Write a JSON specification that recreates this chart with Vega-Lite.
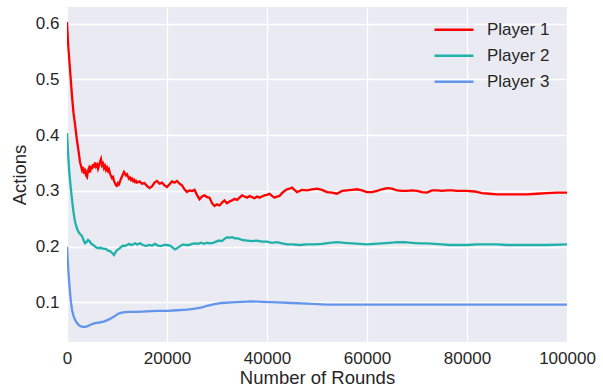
{
  "$schema": "https://vega.github.io/schema/vega-lite/v6.json",
  "width": 500,
  "height": 335,
  "autosize": {"type": "none"},
  "padding": {"left": 67, "top": 7, "right": 36, "bottom": 49},
  "background": "white",
  "data": {
    "values": [
      {"r": 0, "a": 0.603, "p": "Player 1"},
      {"r": 100, "a": 0.585, "p": "Player 1"},
      {"r": 250, "a": 0.56, "p": "Player 1"},
      {"r": 500, "a": 0.53, "p": "Player 1"},
      {"r": 750, "a": 0.5, "p": "Player 1"},
      {"r": 1000, "a": 0.47, "p": "Player 1"},
      {"r": 1300, "a": 0.44, "p": "Player 1"},
      {"r": 1600, "a": 0.42, "p": "Player 1"},
      {"r": 2000, "a": 0.39, "p": "Player 1"},
      {"r": 2300, "a": 0.372, "p": "Player 1"},
      {"r": 2600, "a": 0.352, "p": "Player 1"},
      {"r": 2800, "a": 0.345, "p": "Player 1"},
      {"r": 3000, "a": 0.338, "p": "Player 1"},
      {"r": 3200, "a": 0.343, "p": "Player 1"},
      {"r": 3400, "a": 0.331, "p": "Player 1"},
      {"r": 3600, "a": 0.34, "p": "Player 1"},
      {"r": 3800, "a": 0.328, "p": "Player 1"},
      {"r": 4000, "a": 0.325, "p": "Player 1"},
      {"r": 4200, "a": 0.336, "p": "Player 1"},
      {"r": 4400, "a": 0.341, "p": "Player 1"},
      {"r": 4600, "a": 0.333, "p": "Player 1"},
      {"r": 4800, "a": 0.345, "p": "Player 1"},
      {"r": 5000, "a": 0.339, "p": "Player 1"},
      {"r": 5200, "a": 0.348, "p": "Player 1"},
      {"r": 5400, "a": 0.342, "p": "Player 1"},
      {"r": 5600, "a": 0.351, "p": "Player 1"},
      {"r": 5800, "a": 0.344, "p": "Player 1"},
      {"r": 6000, "a": 0.347, "p": "Player 1"},
      {"r": 6200, "a": 0.34, "p": "Player 1"},
      {"r": 6400, "a": 0.346, "p": "Player 1"},
      {"r": 6600, "a": 0.352, "p": "Player 1"},
      {"r": 6800, "a": 0.357, "p": "Player 1"},
      {"r": 7000, "a": 0.346, "p": "Player 1"},
      {"r": 7200, "a": 0.349, "p": "Player 1"},
      {"r": 7400, "a": 0.341, "p": "Player 1"},
      {"r": 7600, "a": 0.345, "p": "Player 1"},
      {"r": 7800, "a": 0.338, "p": "Player 1"},
      {"r": 8000, "a": 0.342, "p": "Player 1"},
      {"r": 8200, "a": 0.336, "p": "Player 1"},
      {"r": 8400, "a": 0.339, "p": "Player 1"},
      {"r": 8600, "a": 0.331, "p": "Player 1"},
      {"r": 8800, "a": 0.327, "p": "Player 1"},
      {"r": 9000, "a": 0.323, "p": "Player 1"},
      {"r": 9200, "a": 0.325, "p": "Player 1"},
      {"r": 9400, "a": 0.318, "p": "Player 1"},
      {"r": 9600, "a": 0.314, "p": "Player 1"},
      {"r": 9800, "a": 0.31, "p": "Player 1"},
      {"r": 10000, "a": 0.309, "p": "Player 1"},
      {"r": 10200, "a": 0.314, "p": "Player 1"},
      {"r": 10400, "a": 0.312, "p": "Player 1"},
      {"r": 10600, "a": 0.317, "p": "Player 1"},
      {"r": 10800, "a": 0.322, "p": "Player 1"},
      {"r": 11000, "a": 0.326, "p": "Player 1"},
      {"r": 11200, "a": 0.33, "p": "Player 1"},
      {"r": 11400, "a": 0.334, "p": "Player 1"},
      {"r": 11600, "a": 0.331, "p": "Player 1"},
      {"r": 11800, "a": 0.328, "p": "Player 1"},
      {"r": 12000, "a": 0.33, "p": "Player 1"},
      {"r": 12200, "a": 0.326, "p": "Player 1"},
      {"r": 12400, "a": 0.322, "p": "Player 1"},
      {"r": 12600, "a": 0.324, "p": "Player 1"},
      {"r": 12800, "a": 0.32, "p": "Player 1"},
      {"r": 13000, "a": 0.322, "p": "Player 1"},
      {"r": 13200, "a": 0.318, "p": "Player 1"},
      {"r": 13400, "a": 0.32, "p": "Player 1"},
      {"r": 13600, "a": 0.316, "p": "Player 1"},
      {"r": 13800, "a": 0.318, "p": "Player 1"},
      {"r": 14000, "a": 0.315, "p": "Player 1"},
      {"r": 14500, "a": 0.317, "p": "Player 1"},
      {"r": 15000, "a": 0.313, "p": "Player 1"},
      {"r": 15500, "a": 0.314, "p": "Player 1"},
      {"r": 16000, "a": 0.309, "p": "Player 1"},
      {"r": 16500, "a": 0.305, "p": "Player 1"},
      {"r": 17000, "a": 0.308, "p": "Player 1"},
      {"r": 17500, "a": 0.315, "p": "Player 1"},
      {"r": 18000, "a": 0.318, "p": "Player 1"},
      {"r": 18500, "a": 0.313, "p": "Player 1"},
      {"r": 19000, "a": 0.315, "p": "Player 1"},
      {"r": 19500, "a": 0.31, "p": "Player 1"},
      {"r": 20000, "a": 0.307, "p": "Player 1"},
      {"r": 20500, "a": 0.312, "p": "Player 1"},
      {"r": 21000, "a": 0.317, "p": "Player 1"},
      {"r": 21500, "a": 0.315, "p": "Player 1"},
      {"r": 22000, "a": 0.318, "p": "Player 1"},
      {"r": 22500, "a": 0.313, "p": "Player 1"},
      {"r": 23000, "a": 0.31, "p": "Player 1"},
      {"r": 23500, "a": 0.303, "p": "Player 1"},
      {"r": 24000, "a": 0.298, "p": "Player 1"},
      {"r": 24500, "a": 0.301, "p": "Player 1"},
      {"r": 25000, "a": 0.3, "p": "Player 1"},
      {"r": 25500, "a": 0.302, "p": "Player 1"},
      {"r": 26000, "a": 0.293, "p": "Player 1"},
      {"r": 26500, "a": 0.285, "p": "Player 1"},
      {"r": 27000, "a": 0.29, "p": "Player 1"},
      {"r": 27500, "a": 0.292, "p": "Player 1"},
      {"r": 28000, "a": 0.289, "p": "Player 1"},
      {"r": 28500, "a": 0.288, "p": "Player 1"},
      {"r": 29000, "a": 0.278, "p": "Player 1"},
      {"r": 29500, "a": 0.273, "p": "Player 1"},
      {"r": 30000, "a": 0.276, "p": "Player 1"},
      {"r": 30500, "a": 0.274, "p": "Player 1"},
      {"r": 31000, "a": 0.279, "p": "Player 1"},
      {"r": 31500, "a": 0.283, "p": "Player 1"},
      {"r": 32000, "a": 0.278, "p": "Player 1"},
      {"r": 32500, "a": 0.281, "p": "Player 1"},
      {"r": 33000, "a": 0.283, "p": "Player 1"},
      {"r": 33500, "a": 0.286, "p": "Player 1"},
      {"r": 34000, "a": 0.284, "p": "Player 1"},
      {"r": 34500, "a": 0.288, "p": "Player 1"},
      {"r": 35000, "a": 0.292, "p": "Player 1"},
      {"r": 35500, "a": 0.29, "p": "Player 1"},
      {"r": 36000, "a": 0.288, "p": "Player 1"},
      {"r": 36500, "a": 0.291, "p": "Player 1"},
      {"r": 37000, "a": 0.289, "p": "Player 1"},
      {"r": 37500, "a": 0.287, "p": "Player 1"},
      {"r": 38000, "a": 0.29, "p": "Player 1"},
      {"r": 38500, "a": 0.288, "p": "Player 1"},
      {"r": 39000, "a": 0.29, "p": "Player 1"},
      {"r": 39500, "a": 0.292, "p": "Player 1"},
      {"r": 40000, "a": 0.293, "p": "Player 1"},
      {"r": 40500, "a": 0.295, "p": "Player 1"},
      {"r": 41000, "a": 0.291, "p": "Player 1"},
      {"r": 41500, "a": 0.288, "p": "Player 1"},
      {"r": 42000, "a": 0.29, "p": "Player 1"},
      {"r": 42500, "a": 0.291, "p": "Player 1"},
      {"r": 43000, "a": 0.296, "p": "Player 1"},
      {"r": 43500, "a": 0.3, "p": "Player 1"},
      {"r": 44000, "a": 0.303, "p": "Player 1"},
      {"r": 44500, "a": 0.304, "p": "Player 1"},
      {"r": 45000, "a": 0.306, "p": "Player 1"},
      {"r": 45500, "a": 0.302, "p": "Player 1"},
      {"r": 46000, "a": 0.298, "p": "Player 1"},
      {"r": 46500, "a": 0.3, "p": "Player 1"},
      {"r": 47000, "a": 0.302, "p": "Player 1"},
      {"r": 48000, "a": 0.301, "p": "Player 1"},
      {"r": 49000, "a": 0.303, "p": "Player 1"},
      {"r": 50000, "a": 0.304, "p": "Player 1"},
      {"r": 51000, "a": 0.302, "p": "Player 1"},
      {"r": 52000, "a": 0.298, "p": "Player 1"},
      {"r": 53000, "a": 0.297, "p": "Player 1"},
      {"r": 54000, "a": 0.295, "p": "Player 1"},
      {"r": 55000, "a": 0.3, "p": "Player 1"},
      {"r": 56000, "a": 0.301, "p": "Player 1"},
      {"r": 57000, "a": 0.302, "p": "Player 1"},
      {"r": 58000, "a": 0.303, "p": "Player 1"},
      {"r": 59000, "a": 0.301, "p": "Player 1"},
      {"r": 60000, "a": 0.298, "p": "Player 1"},
      {"r": 61000, "a": 0.298, "p": "Player 1"},
      {"r": 62000, "a": 0.3, "p": "Player 1"},
      {"r": 63000, "a": 0.303, "p": "Player 1"},
      {"r": 64000, "a": 0.305, "p": "Player 1"},
      {"r": 65000, "a": 0.304, "p": "Player 1"},
      {"r": 66000, "a": 0.301, "p": "Player 1"},
      {"r": 67000, "a": 0.3, "p": "Player 1"},
      {"r": 68000, "a": 0.3, "p": "Player 1"},
      {"r": 69000, "a": 0.301, "p": "Player 1"},
      {"r": 70000, "a": 0.3, "p": "Player 1"},
      {"r": 71000, "a": 0.298, "p": "Player 1"},
      {"r": 72000, "a": 0.297, "p": "Player 1"},
      {"r": 73000, "a": 0.301, "p": "Player 1"},
      {"r": 74000, "a": 0.301, "p": "Player 1"},
      {"r": 75000, "a": 0.3, "p": "Player 1"},
      {"r": 76000, "a": 0.301, "p": "Player 1"},
      {"r": 77000, "a": 0.301, "p": "Player 1"},
      {"r": 78000, "a": 0.3, "p": "Player 1"},
      {"r": 80000, "a": 0.3, "p": "Player 1"},
      {"r": 81500, "a": 0.299, "p": "Player 1"},
      {"r": 83000, "a": 0.296, "p": "Player 1"},
      {"r": 84500, "a": 0.295, "p": "Player 1"},
      {"r": 86000, "a": 0.294, "p": "Player 1"},
      {"r": 88000, "a": 0.294, "p": "Player 1"},
      {"r": 90000, "a": 0.294, "p": "Player 1"},
      {"r": 92000, "a": 0.294, "p": "Player 1"},
      {"r": 94000, "a": 0.295, "p": "Player 1"},
      {"r": 96000, "a": 0.296, "p": "Player 1"},
      {"r": 98000, "a": 0.297, "p": "Player 1"},
      {"r": 100000, "a": 0.297, "p": "Player 1"},

      {"r": 0, "a": 0.404, "p": "Player 2"},
      {"r": 200, "a": 0.37, "p": "Player 2"},
      {"r": 400, "a": 0.34, "p": "Player 2"},
      {"r": 700, "a": 0.31, "p": "Player 2"},
      {"r": 1000, "a": 0.285, "p": "Player 2"},
      {"r": 1300, "a": 0.262, "p": "Player 2"},
      {"r": 1600, "a": 0.245, "p": "Player 2"},
      {"r": 2000, "a": 0.232, "p": "Player 2"},
      {"r": 2400, "a": 0.225, "p": "Player 2"},
      {"r": 2700, "a": 0.222, "p": "Player 2"},
      {"r": 3000, "a": 0.219, "p": "Player 2"},
      {"r": 3300, "a": 0.212, "p": "Player 2"},
      {"r": 3600, "a": 0.206, "p": "Player 2"},
      {"r": 3900, "a": 0.208, "p": "Player 2"},
      {"r": 4200, "a": 0.212, "p": "Player 2"},
      {"r": 4500, "a": 0.21, "p": "Player 2"},
      {"r": 4800, "a": 0.206, "p": "Player 2"},
      {"r": 5100, "a": 0.204, "p": "Player 2"},
      {"r": 5400, "a": 0.202, "p": "Player 2"},
      {"r": 5800, "a": 0.199, "p": "Player 2"},
      {"r": 6200, "a": 0.197, "p": "Player 2"},
      {"r": 6600, "a": 0.198, "p": "Player 2"},
      {"r": 7000, "a": 0.197, "p": "Player 2"},
      {"r": 7400, "a": 0.196, "p": "Player 2"},
      {"r": 7800, "a": 0.196, "p": "Player 2"},
      {"r": 8200, "a": 0.193, "p": "Player 2"},
      {"r": 8600, "a": 0.192, "p": "Player 2"},
      {"r": 9000, "a": 0.189, "p": "Player 2"},
      {"r": 9400, "a": 0.185, "p": "Player 2"},
      {"r": 9700, "a": 0.19, "p": "Player 2"},
      {"r": 10000, "a": 0.194, "p": "Player 2"},
      {"r": 10400, "a": 0.196, "p": "Player 2"},
      {"r": 10800, "a": 0.199, "p": "Player 2"},
      {"r": 11200, "a": 0.202, "p": "Player 2"},
      {"r": 11600, "a": 0.201, "p": "Player 2"},
      {"r": 12000, "a": 0.203, "p": "Player 2"},
      {"r": 12400, "a": 0.205, "p": "Player 2"},
      {"r": 12800, "a": 0.203, "p": "Player 2"},
      {"r": 13200, "a": 0.204, "p": "Player 2"},
      {"r": 13600, "a": 0.206, "p": "Player 2"},
      {"r": 14000, "a": 0.204, "p": "Player 2"},
      {"r": 14600, "a": 0.206, "p": "Player 2"},
      {"r": 15200, "a": 0.203, "p": "Player 2"},
      {"r": 15800, "a": 0.201, "p": "Player 2"},
      {"r": 16400, "a": 0.203, "p": "Player 2"},
      {"r": 17000, "a": 0.202, "p": "Player 2"},
      {"r": 17600, "a": 0.205, "p": "Player 2"},
      {"r": 18200, "a": 0.202, "p": "Player 2"},
      {"r": 18800, "a": 0.201, "p": "Player 2"},
      {"r": 19400, "a": 0.203, "p": "Player 2"},
      {"r": 20000, "a": 0.203, "p": "Player 2"},
      {"r": 20600, "a": 0.202, "p": "Player 2"},
      {"r": 21200, "a": 0.198, "p": "Player 2"},
      {"r": 21600, "a": 0.195, "p": "Player 2"},
      {"r": 22000, "a": 0.197, "p": "Player 2"},
      {"r": 22600, "a": 0.201, "p": "Player 2"},
      {"r": 23200, "a": 0.204, "p": "Player 2"},
      {"r": 23800, "a": 0.203, "p": "Player 2"},
      {"r": 24400, "a": 0.203, "p": "Player 2"},
      {"r": 25000, "a": 0.205, "p": "Player 2"},
      {"r": 25600, "a": 0.206, "p": "Player 2"},
      {"r": 26200, "a": 0.205, "p": "Player 2"},
      {"r": 26800, "a": 0.207, "p": "Player 2"},
      {"r": 27400, "a": 0.205, "p": "Player 2"},
      {"r": 28000, "a": 0.207, "p": "Player 2"},
      {"r": 28600, "a": 0.206, "p": "Player 2"},
      {"r": 29200, "a": 0.207, "p": "Player 2"},
      {"r": 29800, "a": 0.209, "p": "Player 2"},
      {"r": 30400, "a": 0.211, "p": "Player 2"},
      {"r": 31000, "a": 0.21, "p": "Player 2"},
      {"r": 31500, "a": 0.214, "p": "Player 2"},
      {"r": 32000, "a": 0.217, "p": "Player 2"},
      {"r": 32500, "a": 0.216, "p": "Player 2"},
      {"r": 33000, "a": 0.217, "p": "Player 2"},
      {"r": 33600, "a": 0.215, "p": "Player 2"},
      {"r": 34200, "a": 0.215, "p": "Player 2"},
      {"r": 35000, "a": 0.212, "p": "Player 2"},
      {"r": 36000, "a": 0.211, "p": "Player 2"},
      {"r": 37000, "a": 0.21, "p": "Player 2"},
      {"r": 38000, "a": 0.211, "p": "Player 2"},
      {"r": 39000, "a": 0.209, "p": "Player 2"},
      {"r": 40000, "a": 0.209, "p": "Player 2"},
      {"r": 41000, "a": 0.207, "p": "Player 2"},
      {"r": 42000, "a": 0.208, "p": "Player 2"},
      {"r": 43000, "a": 0.206, "p": "Player 2"},
      {"r": 44000, "a": 0.204, "p": "Player 2"},
      {"r": 45000, "a": 0.204, "p": "Player 2"},
      {"r": 46500, "a": 0.203, "p": "Player 2"},
      {"r": 48000, "a": 0.204, "p": "Player 2"},
      {"r": 49500, "a": 0.204, "p": "Player 2"},
      {"r": 51000, "a": 0.205, "p": "Player 2"},
      {"r": 52500, "a": 0.207, "p": "Player 2"},
      {"r": 54000, "a": 0.208, "p": "Player 2"},
      {"r": 55500, "a": 0.207, "p": "Player 2"},
      {"r": 57000, "a": 0.206, "p": "Player 2"},
      {"r": 58500, "a": 0.205, "p": "Player 2"},
      {"r": 60000, "a": 0.204, "p": "Player 2"},
      {"r": 61500, "a": 0.205, "p": "Player 2"},
      {"r": 63000, "a": 0.206, "p": "Player 2"},
      {"r": 64500, "a": 0.207, "p": "Player 2"},
      {"r": 66000, "a": 0.208, "p": "Player 2"},
      {"r": 67500, "a": 0.208, "p": "Player 2"},
      {"r": 69000, "a": 0.207, "p": "Player 2"},
      {"r": 70500, "a": 0.206, "p": "Player 2"},
      {"r": 72000, "a": 0.206, "p": "Player 2"},
      {"r": 73500, "a": 0.205, "p": "Player 2"},
      {"r": 75000, "a": 0.204, "p": "Player 2"},
      {"r": 76500, "a": 0.203, "p": "Player 2"},
      {"r": 78000, "a": 0.203, "p": "Player 2"},
      {"r": 80000, "a": 0.203, "p": "Player 2"},
      {"r": 82000, "a": 0.204, "p": "Player 2"},
      {"r": 84000, "a": 0.204, "p": "Player 2"},
      {"r": 86000, "a": 0.204, "p": "Player 2"},
      {"r": 88000, "a": 0.203, "p": "Player 2"},
      {"r": 90000, "a": 0.203, "p": "Player 2"},
      {"r": 93000, "a": 0.203, "p": "Player 2"},
      {"r": 96000, "a": 0.203, "p": "Player 2"},
      {"r": 100000, "a": 0.204, "p": "Player 2"},

      {"r": 0, "a": 0.2, "p": "Player 3"},
      {"r": 200, "a": 0.168, "p": "Player 3"},
      {"r": 400, "a": 0.14, "p": "Player 3"},
      {"r": 600, "a": 0.118, "p": "Player 3"},
      {"r": 800, "a": 0.1, "p": "Player 3"},
      {"r": 1000, "a": 0.087, "p": "Player 3"},
      {"r": 1300, "a": 0.076, "p": "Player 3"},
      {"r": 1600, "a": 0.069, "p": "Player 3"},
      {"r": 2000, "a": 0.063, "p": "Player 3"},
      {"r": 2400, "a": 0.059, "p": "Player 3"},
      {"r": 2800, "a": 0.057, "p": "Player 3"},
      {"r": 3200, "a": 0.056, "p": "Player 3"},
      {"r": 3600, "a": 0.056, "p": "Player 3"},
      {"r": 4000, "a": 0.057, "p": "Player 3"},
      {"r": 4500, "a": 0.059, "p": "Player 3"},
      {"r": 5000, "a": 0.061, "p": "Player 3"},
      {"r": 5600, "a": 0.063, "p": "Player 3"},
      {"r": 6500, "a": 0.064, "p": "Player 3"},
      {"r": 7500, "a": 0.066, "p": "Player 3"},
      {"r": 8500, "a": 0.07, "p": "Player 3"},
      {"r": 9500, "a": 0.075, "p": "Player 3"},
      {"r": 10300, "a": 0.08, "p": "Player 3"},
      {"r": 11200, "a": 0.082, "p": "Player 3"},
      {"r": 12500, "a": 0.083, "p": "Player 3"},
      {"r": 14000, "a": 0.083, "p": "Player 3"},
      {"r": 16000, "a": 0.084, "p": "Player 3"},
      {"r": 18000, "a": 0.085, "p": "Player 3"},
      {"r": 20000, "a": 0.085, "p": "Player 3"},
      {"r": 22000, "a": 0.086, "p": "Player 3"},
      {"r": 24000, "a": 0.087, "p": "Player 3"},
      {"r": 25600, "a": 0.089, "p": "Player 3"},
      {"r": 27000, "a": 0.091, "p": "Player 3"},
      {"r": 28000, "a": 0.094, "p": "Player 3"},
      {"r": 29500, "a": 0.097, "p": "Player 3"},
      {"r": 31000, "a": 0.099, "p": "Player 3"},
      {"r": 33000, "a": 0.1, "p": "Player 3"},
      {"r": 35000, "a": 0.101, "p": "Player 3"},
      {"r": 37000, "a": 0.102, "p": "Player 3"},
      {"r": 39000, "a": 0.101, "p": "Player 3"},
      {"r": 42000, "a": 0.1, "p": "Player 3"},
      {"r": 45000, "a": 0.099, "p": "Player 3"},
      {"r": 48000, "a": 0.098, "p": "Player 3"},
      {"r": 52000, "a": 0.096, "p": "Player 3"},
      {"r": 56000, "a": 0.096, "p": "Player 3"},
      {"r": 60000, "a": 0.096, "p": "Player 3"},
      {"r": 70000, "a": 0.096, "p": "Player 3"},
      {"r": 80000, "a": 0.096, "p": "Player 3"},
      {"r": 90000, "a": 0.096, "p": "Player 3"},
      {"r": 100000, "a": 0.096, "p": "Player 3"}
    ]
  },
  "mark": {"type": "line", "strokeWidth": 2.3, "clip": true},
  "encoding": {
    "x": {
      "field": "r",
      "type": "quantitative",
      "title": "Number of Rounds",
      "scale": {"domain": [0, 100000], "nice": false, "zero": false},
      "axis": {"values": [0, 20000, 40000, 60000, 80000, 100000], "format": "d", "labelFlush": false, "titlePadding": 2}
    },
    "y": {
      "field": "a",
      "type": "quantitative",
      "title": "Actions",
      "scale": {"domain": [0.029, 0.63], "nice": false, "zero": false},
      "axis": {"values": [0.1, 0.2, 0.3, 0.4, 0.5, 0.6], "format": ".1f", "labelFlush": false, "titlePadding": 6}
    },
    "color": {
      "field": "p",
      "type": "nominal",
      "scale": {
        "domain": ["Player 1", "Player 2", "Player 3"],
        "range": ["#ff0000", "#20b2aa", "#6495ed"]
      },
      "legend": {
        "title": null,
        "orient": "none",
        "legendX": 366,
        "legendY": 10,
        "padding": 0,
        "symbolType": "stroke",
        "symbolSize": 1521,
        "symbolStrokeWidth": 2.5,
        "rowPadding": 0,
        "clipHeight": 25.5,
        "labelOffset": 12,
        "labelFont": "Liberation Sans",
        "labelFontSize": 17,
        "labelColor": "#262626"
      }
    }
  },
  "config": {
    "view": {"fill": "#eaeaf2", "stroke": null},
    "axis": {
      "grid": true,
      "gridColor": "#ffffff",
      "gridWidth": 1.3,
      "domain": false,
      "ticks": false,
      "labelPadding": 8,
      "labelFont": "Liberation Sans",
      "labelFontSize": 17,
      "labelColor": "#262626",
      "titleFont": "Liberation Sans",
      "titleFontSize": 18.5,
      "titleFontWeight": "normal",
      "titleColor": "#262626"
    }
  }
}
